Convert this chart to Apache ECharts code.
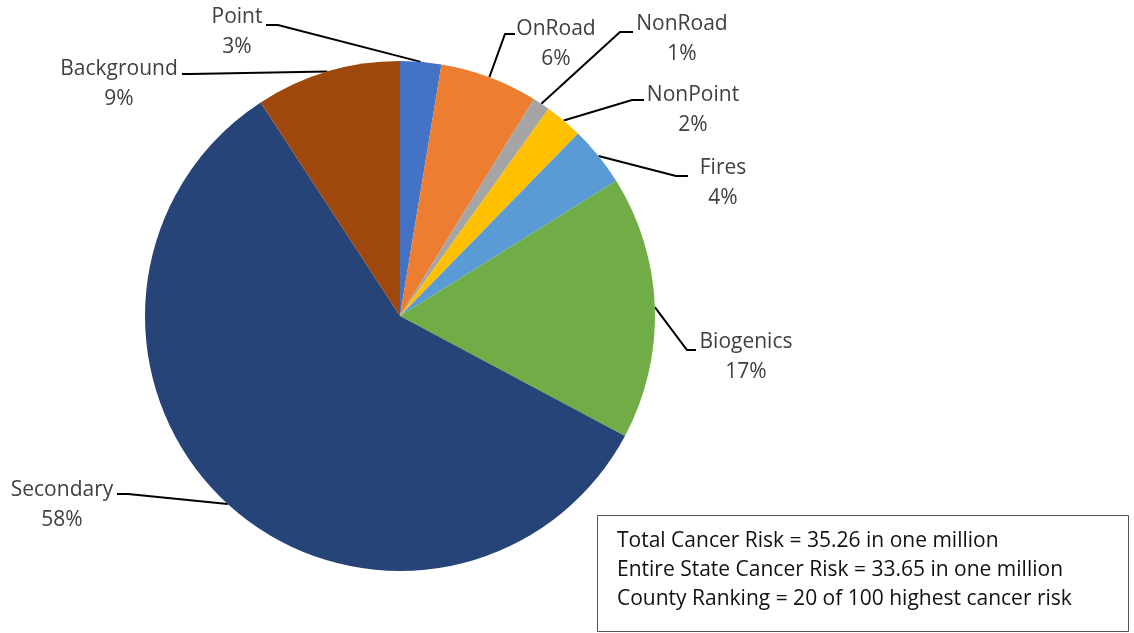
<!DOCTYPE html>
<html><head><meta charset="utf-8">
<script src="https://cdn.jsdelivr.net/npm/echarts@6/dist/echarts.min.js"></script>
<style>html,body{margin:0;padding:0;background:#fff}#c{width:1134px;height:633px}</style>
</head><body><div id="c"></div>
<script>
// ---- data ----
const categories = ['Point', 'OnRoad', 'NonRoad', 'NonPoint', 'Fires', 'Biogenics', 'Secondary', 'Background'];
const shares = [2.6, 6.2, 1.1, 2.4, 3.8, 16.7, 58.0, 9.2];
const sliceColors = ['#4472C4', '#ED7D31', '#A5A5A5', '#FFC000', '#5B9BD5', '#70AD47', '#264478', '#9E480E'];
const noteLines = [
  'Total Cancer Risk = 35.26 in one million',
  'Entire State Cancer Risk = 33.65 in one million',
  'County Ranking = 20 of 100 highest cancer risk'
];

// ---- label layout (annotation placement only) ----
const labelSpots = {
  Point:      { x: 237, y: 32,  elbow: [278, 25],  end: [266, 25] },
  OnRoad:     { x: 556, y: 44,  elbow: [505, 34],  end: [515, 34] },
  NonRoad:    { x: 682, y: 39,  elbow: [620, 32],  end: [633, 32] },
  NonPoint:   { x: 693, y: 110, elbow: [632, 100], end: [644, 100] },
  Fires:      { x: 723, y: 183, elbow: [676, 176], end: [688, 176] },
  Biogenics:  { x: 746, y: 357, elbow: [687, 350], end: [696, 350] },
  Secondary:  { x: 62,  y: 505, elbow: [128, 494], end: [117, 494] },
  Background: { x: 119, y: 84,  elbow: [190, 74],  end: [182, 74] }
};

const FONT = '"Open Sans", "Noto Sans", sans-serif';
const chart = echarts.init(document.getElementById('c'), null, { renderer: 'canvas' });

const option = {
  animation: false,
  backgroundColor: '#ffffff',
  series: [{
    type: 'pie',
    center: [400, 316],
    radius: 255,
    startAngle: 90,
    clockwise: true,
    avoidLabelOverlap: false,
    data: categories.map((n, i) => ({ name: n, value: shares[i], itemStyle: { color: sliceColors[i] } })),
    itemStyle: { borderWidth: 0 },
    label: {
      show: true,
      position: 'outer',
      alignTo: 'none',
      formatter: p => p.name + '\n' + Math.round(p.value) + '%',
      fontFamily: FONT,
      fontSize: 21,
      lineHeight: 30,
      color: '#404040',
      align: 'center'
    },
    labelLine: { show: true, length: 20, length2: 10, lineStyle: { color: '#000', width: 2 } },
    labelLayout: function (params) {
      const s = labelSpots[categories[params.dataIndex]];
      const p0 = params.labelLinePoints ? params.labelLinePoints[0] : s.elbow;
      return {
        x: s.x, y: s.y, align: 'center', verticalAlign: 'middle',
        labelLinePoints: [p0, s.elbow, s.end]
      };
    }
  }],
  graphic: [
    {
      type: 'rect',
      shape: { x: 597.5, y: 515.5, width: 531, height: 116 },
      style: { fill: 'none', stroke: '#555', lineWidth: 1 }
    }
  ].concat(noteLines.map((t, i) => ({
    type: 'text',
    x: 617,
    y: 541 + i * 29,
    style: { text: t, fill: '#111', font: '21px ' + FONT, textVerticalAlign: 'middle', textAlign: 'left' }
  })))
};
chart.setOption(option);
</script>
</body></html>
